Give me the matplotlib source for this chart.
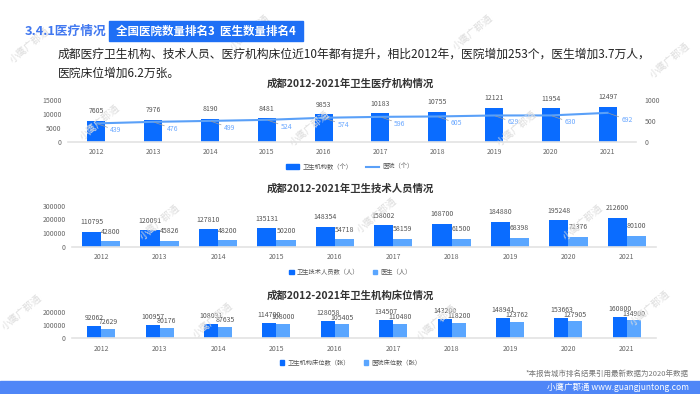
import matplotlib
matplotlib.use('Agg')
import matplotlib.pyplot as plt
from matplotlib.patches import Rectangle, Patch
from matplotlib.lines import Line2D
import numpy as np

plt.rcParams['font.family'] = ['Noto Sans CJK SC', 'DejaVu Sans']

# data
years = ['2012', '2013', '2014', '2015', '2016', '2017', '2018', '2019', '2020', '2021']
institutions = [7605, 7976, 8190, 8481, 9853, 10183, 10755, 12121, 11954, 12497]
hospitals = [439, 476, 499, 524, 574, 596, 605, 629, 630, 692]
tech_staff = [110795, 120091, 127810, 135131, 148354, 158002, 168700, 184880, 195248, 212600]
doctors = [42800, 45826, 48200, 50200, 54718, 58159, 61500, 68398, 72376, 80100]
beds_all = [92062, 100957, 108031, 114700, 128058, 134507, 143200, 148941, 153663, 160800]
beds_hosp = [72629, 80176, 87635, 108000, 105405, 110480, 118200, 123762, 127905, 134900]

W, H = 700, 394
DARK = '#0a6cff'
LIGHT = '#5aa6ff'
LINE = '#5aa0f8'
TICK = '#666666'

fig = plt.figure(figsize=(7, 3.94), dpi=100)
fig.patch.set_facecolor('white')


def fx(x):
    return x / W


def fy(y):
    return 1 - y / H


def px_axes(x0, y0, x1, y1):
    return fig.add_axes([fx(x0), fy(y1), (x1 - x0) / W, (y1 - y0) / H])


def style(ax, yticks):
    ax.set_xlim(-0.5, len(years) - 0.5)
    ax.set_ylim(yticks[0], yticks[-1])
    ax.set_yticks(yticks)
    ax.set_xticks(np.arange(len(years)))
    ax.set_xticklabels(years)
    for s in ['top', 'right', 'left']:
        ax.spines[s].set_visible(False)
    ax.spines['bottom'].set_color('#e3e3e3')
    ax.spines['bottom'].set_linewidth(1.2)
    ax.tick_params(length=0, labelsize=5, colors=TICK, pad=4.5)
    ax.patch.set_alpha(0)


# watermarks
marks = [(30, 45), (250, 32), (473, 32), (670, 60), (100, 122), (310, 128), (517, 128),
         (160, 222), (377, 215), (583, 222), (22, 312), (213, 320), (437, 322), (650, 308)]
for x, y in marks:
    fig.text(fx(x), fy(y), '小鹰广郡通', rotation=40, fontsize=7, color='#dedede',
             ha='center', va='center', zorder=0)

# header
fig.text(fx(25), fy(31), '3.4.1医疗情况', fontsize=9.2, fontweight='bold', color='#4178f0',
         ha='left', va='center')
fig.patches.append(Rectangle((fx(109), fy(41)), (303 - 109) / W, 20 / H,
                             transform=fig.transFigure, color='#1e6ff5', zorder=1))
fig.text(fx(206), fy(31), '全国医院数量排名3  医生数量排名4', fontsize=8.3, fontweight='bold',
         color='white', ha='center', va='center', zorder=2)
fig.text(fx(58), fy(54), '成都医疗卫生机构、技术人员、医疗机构床位近10年都有提升，相比2012年，医院增加253个，医生增加3.7万人，',
         fontsize=8.5, fontweight='medium', color='#222222', ha='left', va='center')
fig.text(fx(58), fy(73), '医院床位增加6.2万张。', fontsize=8.5, fontweight='medium',
         color='#222222', ha='left', va='center')

x = np.arange(len(years))

# chart 1
fig.text(fx(350), fy(84), '成都2012-2021年卫生医疗机构情况', fontsize=7.5, fontweight='bold',
         color='#333333', ha='center', va='center')
ax1 = px_axes(68, 100, 636, 141.7)
style(ax1, [0, 5000, 10000, 15000])
ax1.bar(x, institutions, width=0.32, color=DARK, zorder=2)
for xi, v in zip(x, institutions):
    ax1.annotate(str(v), (xi, v), xytext=(0, 4), textcoords='offset points',
                 ha='center', va='bottom', fontsize=5, color='#555555')
ax1r = ax1.twinx()
ax1r.set_ylim(0, 1000)
ax1r.set_yticks([0, 500, 1000])
for s in ['top', 'right', 'left', 'bottom']:
    ax1r.spines[s].set_visible(False)
ax1r.tick_params(length=0, labelsize=5, colors=TICK, pad=6)
ax1r.plot(x, hospitals, color=LINE, lw=1.5, zorder=3)
for xi, v in zip(x, hospitals):
    ax1r.annotate(str(v), (xi, v), xytext=(10, -5), textcoords='offset points',
                  ha='left', va='center', fontsize=5, color='#6aa8ff',
                  arrowprops=dict(arrowstyle='-', color='#9a9a9a', lw=0.5,
                                  shrinkA=0, shrinkB=1))
ax1.legend(handles=[Patch(color=DARK, label='卫生机构数（个）'),
                    Line2D([], [], color=LINE, lw=1.5, label='医院（个）')],
           loc='center', bbox_to_anchor=(fx(350), fy(166.7)), bbox_transform=fig.transFigure,
           ncol=2, frameon=False, fontsize=4.5, handlelength=2.1, handleheight=0.7,
           handletextpad=0.5, columnspacing=2.2, labelcolor='#555555')

# chart 2
fig.text(fx(350), fy(189), '成都2012-2021年卫生技术人员情况', fontsize=7.5, fontweight='bold',
         color='#333333', ha='center', va='center')
ax2 = px_axes(72, 205.7, 656, 247)
style(ax2, [0, 100000, 200000, 300000])
w2 = 0.33
ax2.bar(x - w2 / 2, tech_staff, width=w2, color=DARK, zorder=2)
ax2.bar(x + w2 / 2, doctors, width=w2, color=LIGHT, zorder=2)
for xi, a, b in zip(x, tech_staff, doctors):
    ax2.annotate(str(a), (xi - w2 / 2, a), xytext=(0, 4), textcoords='offset points',
                 ha='center', va='bottom', fontsize=5, color='#555555')
    ax2.annotate(str(b), (xi + w2 / 2, b), xytext=(0, 4), textcoords='offset points',
                 ha='center', va='bottom', fontsize=5, color='#555555')
ax2.legend(handles=[Patch(color=DARK, label='卫生技术人员数（人）'),
                    Patch(color=LIGHT, label='医生（人）')],
           loc='center', bbox_to_anchor=(fx(350.5), fy(272.3)), bbox_transform=fig.transFigure,
           ncol=2, frameon=False, fontsize=4.5, handlelength=0.7, handleheight=0.7,
           handletextpad=0.5, columnspacing=2.2, labelcolor='#555555')

# chart 3
fig.text(fx(350), fy(296), '成都2012-2021年卫生机构床位情况', fontsize=7.5, fontweight='bold',
         color='#333333', ha='center', va='center')
ax3 = px_axes(72, 311.7, 656, 338.3)
style(ax3, [0, 100000, 200000])
w3 = 0.24
ax3.bar(x - w3 / 2, beds_all, width=w3, color=DARK, zorder=2)
ax3.bar(x + w3 / 2, beds_hosp, width=w3, color=LIGHT, zorder=2)
for xi, a, b in zip(x, beds_all, beds_hosp):
    ax3.annotate(str(a), (xi - w3 / 2, a), xytext=(0, 3), textcoords='offset points',
                 ha='center', va='bottom', fontsize=5, color='#555555')
    ax3.annotate(str(b), (xi + w3 / 2, b), xytext=(0, 2), textcoords='offset points',
                 ha='center', va='bottom', fontsize=5, color='#555555')
ax3.legend(handles=[Patch(color=DARK, label='卫生机构床位数（张）'),
                    Patch(color=LIGHT, label='医院床位数（张）')],
           loc='center', bbox_to_anchor=(fx(350.5), fy(362.7)), bbox_transform=fig.transFigure,
           ncol=2, frameon=False, fontsize=4.5, handlelength=0.7, handleheight=0.7,
           handletextpad=0.5, columnspacing=2.2, labelcolor='#555555')

# footer
fig.text(fx(689), fy(374), '*本报告城市排名结果引用最新数据为2020年数据', fontsize=5.4,
         color='#777777', ha='right', va='center')
fig.patches.append(Rectangle((0, 0), 1, (394 - 381) / H, transform=fig.transFigure,
                             color='#4f86f7', zorder=1))
fig.text(fx(689), fy(387.5), '小鹰广郡通 www.guangjuntong.com', fontsize=6.1,
         color='white', ha='right', va='center', zorder=2)

fig.savefig('out.png', dpi=100, facecolor='white')
